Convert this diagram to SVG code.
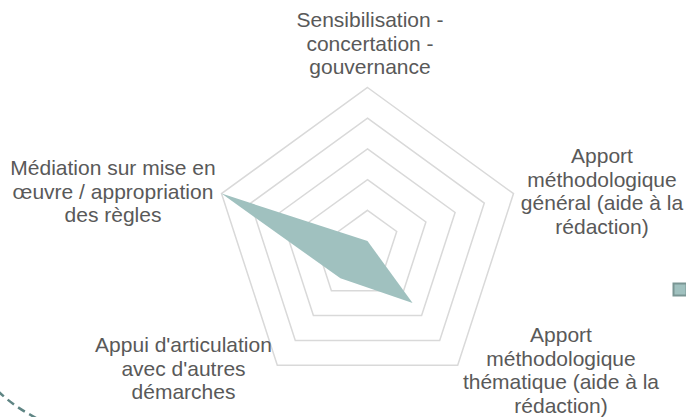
<svg xmlns="http://www.w3.org/2000/svg" width="686" height="417" viewBox="0 0 686 417">
  <style>
    .grid { fill: none; stroke: #d9d9d9; stroke-width: 1.5; stroke-linejoin: miter; }
    .lbl { font-family: "Liberation Sans", Arial, sans-serif; font-size: 21px; fill: #595959; text-anchor: middle; }
    .series { fill: #a0c1bf; stroke: none; }
  </style>
  <rect width="686" height="417" fill="#ffffff"/>
  <g id="grid">
    <polygon class="grid" points="367.5,87.5 513.5,193.6 457.7,365.2 277.3,365.2 221.5,193.6"/>
    <polygon class="grid" points="367.5,118.2 484.3,203.1 439.7,340.4 295.3,340.4 250.7,203.1"/>
    <polygon class="grid" points="367.5,148.9 455.1,212.5 421.6,315.5 313.4,315.5 279.9,212.5"/>
    <polygon class="grid" points="367.5,179.6 425.9,222.0 403.6,290.7 331.4,290.7 309.1,222.0"/>
    <polygon class="grid" points="367.5,210.3 396.7,231.5 385.5,265.8 349.5,265.8 338.3,231.5"/>
  </g>
  <g id="series">
    <polygon class="series" points="367.5,241 367.5,241 412.6,303.1 340.4,278.3 221.5,193.6"/>
  </g>
  <g id="label-top">
    <text class="lbl" x="370" y="27">Sensibilisation -</text>
    <text class="lbl" x="370" y="50.5">concertation -</text>
    <text class="lbl" x="370" y="74">gouvernance</text>
  </g>
  <g id="label-right">
    <text class="lbl" x="602" y="163">Apport</text>
    <text class="lbl" x="602" y="186.5">méthodologique</text>
    <text class="lbl" x="602" y="210">général (aide à la</text>
    <text class="lbl" x="602" y="233.5">rédaction)</text>
  </g>
  <g id="label-bottom-right">
    <text class="lbl" x="561" y="342">Apport</text>
    <text class="lbl" x="561" y="365.5">méthodologique</text>
    <text class="lbl" x="561" y="389">thématique (aide à la</text>
    <text class="lbl" x="561" y="412.5">rédaction)</text>
  </g>
  <g id="label-bottom-left">
    <text class="lbl" x="183.5" y="352">Appui d'articulation</text>
    <text class="lbl" x="183.5" y="375.5">avec d'autres</text>
    <text class="lbl" x="183.5" y="399">démarches</text>
  </g>
  <g id="label-left">
    <text class="lbl" x="113" y="175">Médiation sur mise en</text>
    <text class="lbl" x="113" y="198.5">œuvre / appropriation</text>
    <text class="lbl" x="113" y="222">des règles</text>
  </g>
  <g id="legend">
    <rect x="673.5" y="283.5" width="13" height="12" fill="#a0c1bf" stroke="#7a9694" stroke-width="2"/>
  </g>
  <g id="connectors">
    <path d="M -2 391 Q 14 407 40 420" fill="none" stroke="#5f8584" stroke-width="2.5" stroke-dasharray="8 5"/>
  </g>
</svg>
